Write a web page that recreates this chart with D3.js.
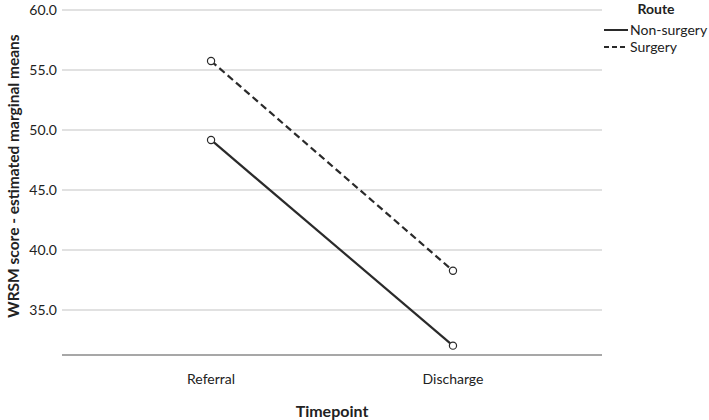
<!DOCTYPE html>
<html><head><meta charset="utf-8">
<script src="https://cdn.jsdelivr.net/npm/d3@7"></script>
<style>body{margin:0;background:#fff}text{font-family:Lato,"Open Sans",sans-serif;fill:#222}</style>
</head><body>
<svg id="c" width="709" height="420"></svg>
<script>
const categories = ["Referral", "Discharge"];
const seriesNames = ["Non-surgery", "Surgery"];
const nonSurgery = [49.17, 32.03];
const surgery = [55.75, 38.27];
const yTicks = [35, 40, 45, 50, 55, 60];

(function(){
const svg = d3.select("#c");
const pl = 62, pr = 602, pt = 10, pb = 355;
const x = d3.scalePoint().domain(categories).range([pl, pr]).padding(0.616);
const y = d3.scaleLinear().domain([31.25, 60]).range([pb, pt]);

svg.append("g").selectAll("line").data(yTicks).join("line")
  .attr("x1", pl).attr("x2", pr).attr("y1", d => y(d)).attr("y2", d => y(d))
  .attr("stroke", "#c4c4c4").attr("stroke-width", 1.2);
svg.append("g").selectAll("text").data(yTicks).join("text")
  .attr("x", 57).attr("y", d => y(d)).attr("dy", "0.35em").attr("text-anchor", "end")
  .attr("font-size", 14).text(d => d.toFixed(1));
svg.append("line").attr("x1", pl).attr("x2", pr).attr("y1", pb).attr("y2", pb)
  .attr("stroke", "#8a8a8a").attr("stroke-width", 1.3);
svg.append("g").selectAll("text").data(categories).join("text")
  .attr("x", d => x(d)).attr("y", 384).attr("text-anchor", "middle").attr("font-size", 14).text(d => d);
svg.append("text").attr("x", 332).attr("y", 417).attr("text-anchor", "middle")
  .attr("font-size", 16).attr("font-weight", "bold").text("Timepoint");
svg.append("text").attr("transform", "translate(19,176) rotate(-90)").attr("text-anchor", "middle")
  .attr("font-size", 15.5).attr("font-weight", "bold").text("WRSM score - estimated marginal means");

const data = [
  {name: seriesNames[0], vals: nonSurgery, dash: null},
  {name: seriesNames[1], vals: surgery, dash: "7,4"}
];
const line = d3.line().x((d, i) => x(categories[i])).y(d => y(d));
data.forEach(s => {
  svg.append("path").attr("d", line(s.vals)).attr("fill", "none").attr("stroke", "#2a2a2a")
    .attr("stroke-width", 2.2).attr("stroke-dasharray", s.dash);
  svg.append("g").selectAll("circle").data(s.vals).join("circle")
    .attr("cx", (d, i) => x(categories[i])).attr("cy", d => y(d)).attr("r", 3.6)
    .attr("fill", "#fff").attr("stroke", "#2a2a2a").attr("stroke-width", 1.2);
});

svg.append("text").attr("x", 656).attr("y", 14).attr("text-anchor", "middle")
  .attr("font-size", 14).attr("font-weight", "bold").text("Route");
data.forEach((s, i) => {
  const ly = 30 + i * 17;
  svg.append("line").attr("x1", 604).attr("x2", 628).attr("y1", ly).attr("y2", ly)
    .attr("stroke", "#2a2a2a").attr("stroke-width", 2).attr("stroke-dasharray", s.dash ? "5,3" : null);
  svg.append("text").attr("x", 630).attr("y", ly).attr("dy", "0.35em").attr("font-size", 14).text(s.name);
});
})();
</script>
</body></html>
